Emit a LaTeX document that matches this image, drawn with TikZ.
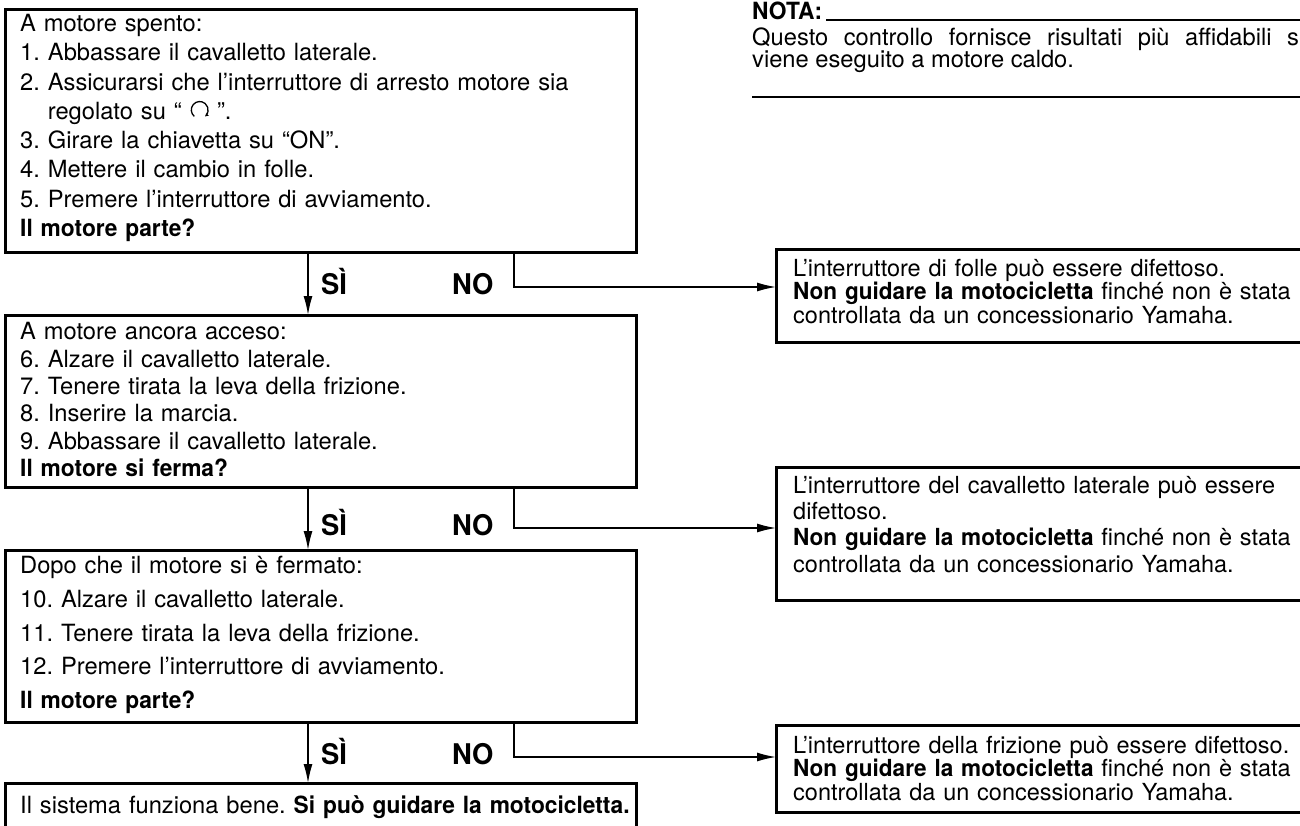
\documentclass[tikz,border=0pt]{standalone}
\usepackage{fontspec}
\setmainfont{TeX Gyre Heros}[BoldFeatures={FakeStretch=0.96}]
\usetikzlibrary{arrows.meta}
\frenchspacing
\newcommand{\fsa}{\fontsize{23.7pt}{29.3pt}\selectfont}
\newcommand{\fsb}{\fontsize{23.7pt}{27.3pt}\selectfont}
\newcommand{\fsc}{\fontsize{23.7pt}{33.8pt}\selectfont}
\newcommand{\fsr}{\fontsize{23.5pt}{23.5pt}\selectfont}
\newcommand{\fsrb}{\fontsize{23.5pt}{26.3pt}\selectfont}
\newcommand{\fsn}{\fontsize{23.7pt}{23.7pt}\selectfont}
\newcommand{\fsl}{\fontsize{28.5pt}{30pt}\selectfont}
\newcommand{\runsym}{\tikz[baseline=0pt,x=1pt,y=1pt]{\draw[line width=1.3pt,-{Stealth[length=3.5pt,width=4pt]}] (-4.6,3.0) arc[start angle=230,end angle=-50,radius=8.4];}}
\begin{document}
\begin{tikzpicture}[x=1pt,y=-1pt,
  box/.style={draw, line width=3pt, rectangle, anchor=north west, inner sep=0pt, outer sep=0pt},
  txt/.style={anchor=north west, inner sep=0pt, align=left, text width=700pt},
  lab/.style={anchor=base west, inner sep=0pt, font=\fsl\bfseries},
  conn/.style={line width=1.5pt},
  arr/.style={conn, -{Latex[length=19pt,width=9pt]}},
  rule/.style={line width=2.5pt}]
\useasboundingbox (0,0) rectangle (1300,826);

% left boxes
\node[box, minimum width=631pt, minimum height=243pt] (b1) at (5,10) {};
\node[box, minimum width=631pt, minimum height=172pt] (b2) at (5,315) {};
\node[box, minimum width=631pt, minimum height=172pt] (b3) at (5,550) {};
\node[box, minimum width=631pt, minimum height=70pt] (b4) at (5,783) {};

\node[txt, font=\fsa] (t1) at (20,14) {A motore spento:\\1. Abbassare il cavalletto laterale.\\2. Assicurarsi che l’interruttore di arresto motore sia\\\phantom{2.\ }regolato su “\ \runsym\ ”.\\3. Girare la chiavetta su “ON”.\\4. Mettere il cambio in folle.\\5. Premere l’interruttore di avviamento.\\\textbf{Il motore parte?}};
\node[txt, font=\fsb] (t2) at (20,322.5) {A motore ancora acceso:\\6. Alzare il cavalletto laterale.\\7. Tenere tirata la leva della frizione.\\8. Inserire la marcia.\\9. Abbassare il cavalletto laterale.\\\textbf{Il motore si ferma?}};
\node[txt, font=\fsc] (t3) at (20,556) {Dopo che il motore si è fermato:\\10. Alzare il cavalletto laterale.\\11. Tenere tirata la leva della frizione.\\12. Premere l’interruttore di avviamento.\\\textbf{Il motore parte?}};
\node[txt, font=\fsa] (t4) at (20,795) {Il sistema funziona bene. \textbf{Si può guidare la motocicletta.}};

% right boxes
\node[box, minimum width=560pt, minimum height=92pt] (r1) at (776,250) {};
\node[box, minimum width=560pt, minimum height=133pt] (r2) at (776,467) {};
\node[box, minimum width=560pt, minimum height=87pt] (r3) at (776,725) {};

\node[txt, font=\fsr] (u1) at (793,259) {L’interruttore di folle può essere difettoso.\\\textbf{Non guidare la motocicletta} finché non è stata\\controllata da un concessionario Yamaha.};
\node[txt, font=\fsrb] (u2) at (793,476) {L’interruttore del cavalletto laterale può essere\\difettoso.\\\textbf{Non guidare la motocicletta} finché non è stata\\controllata da un concessionario Yamaha.};
\node[txt, font=\fsr] (u3) at (793,736) {L’interruttore della frizione può essere difettoso.\\\textbf{Non guidare la motocicletta} finché non è stata\\controllata da un concessionario Yamaha.};

% NOTA
\node[anchor=base west, inner sep=0pt, font=\fsn\bfseries] (nota) at (752,20) {NOTA:};
\coordinate (ruleend) at (1310,20);
\draw[rule] ([xshift=4pt]nota.base east) -- (ruleend);
\node[anchor=base west, inner sep=0pt, font=\fsn] (q1) at (752,46) {\hbox to 560pt{Questo\hfill controllo\hfill fornisce\hfill risultati\hfill più\hfill affidabili\hfill se}};
\node[anchor=base west, inner sep=0pt, font=\fsn] (q2) at (752,68) {viene eseguito a motore caldo.};
\coordinate (rb1) at (752,97);
\coordinate (rb2) at (1310,97);
\draw[rule] (rb1) -- (rb2);

% connectors
\coordinate (sx) at (308,0);
\coordinate (nx) at (514,0);
\coordinate (y1) at (0,287);
\coordinate (y2) at (0,528);
\coordinate (y3) at (0,757);

\draw[arr] (b1.south -| sx) -- (b2.north -| sx);
\draw[arr] (b2.south -| sx) -- (b3.north -| sx);
\draw[arr] (b3.south -| sx) -- (b4.north -| sx);

\draw[arr] (b1.south -| nx) |- (r1.west |- y1);
\draw[arr] (b2.south -| nx) |- (r2.west |- y2);
\draw[arr] (b3.south -| nx) |- (r3.west |- y3);

\node[lab] (si1) at (321,294) {SÌ};
\node[lab] (no1) at (452,294) {NO};
\node[lab] (si2) at (321,535) {SÌ};
\node[lab] (no2) at (452,535) {NO};
\node[lab] (si3) at (321,764) {SÌ};
\node[lab] (no3) at (452,764) {NO};
\end{tikzpicture}
\end{document}
